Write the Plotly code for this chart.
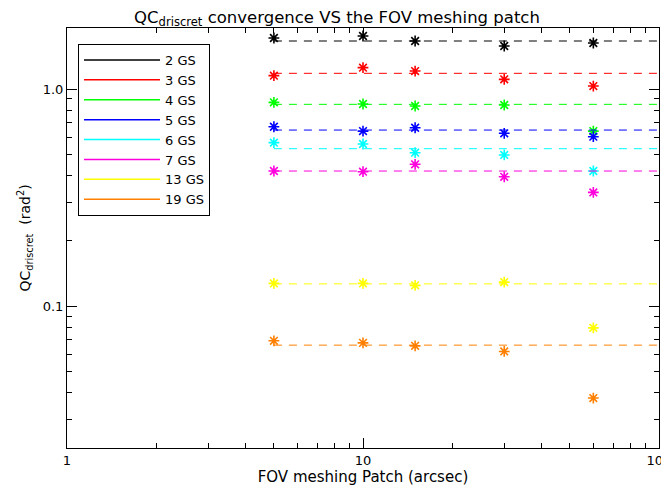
import numpy as np
import plotly.graph_objects as go

# FOV meshing patch (arcsec)
patch = [5, 10, 15, 30, 60]

series_names = ['2 GS', '3 GS', '4 GS', '5 GS', '6 GS', '7 GS', '13 GS', '19 GS']
series_colors = ['#000000', '#ff0000', '#00ff00', '#0000ff', '#00ffff', '#ff00dd', '#ffff00', '#ff8000']

# QC_driscret values (rad^2) per number of GS
qc_2gs = [1.718, 1.755, 1.664, 1.578, 1.629]
qc_3gs = [1.152, 1.254, 1.210, 1.108, 1.032]
qc_4gs = [0.868, 0.853, 0.835, 0.844, 0.640]
qc_5gs = [0.670, 0.640, 0.663, 0.625, 0.603]
qc_6gs = [0.566, 0.558, 0.509, 0.497, 0.419]
qc_7gs = [0.419, 0.416, 0.450, 0.394, 0.334]
qc_13gs = [0.1272, 0.1272, 0.1246, 0.1290, 0.0794]
qc_19gs = [0.0692, 0.0677, 0.0656, 0.0618, 0.0377]

# reference level (dashed line) per series
ref_level = [1.664, 1.181, 0.850, 0.647, 0.531, 0.419, 0.1266, 0.0661]
line_x = [5, 100]

all_qc = [qc_2gs, qc_3gs, qc_4gs, qc_5gs, qc_6gs, qc_7gs, qc_13gs, qc_19gs]

fig = go.Figure()

for name, col, qc, ref in zip(series_names, series_colors, all_qc, ref_level):
    fig.add_trace(
        go.Scatter(
            x=line_x,
            y=[ref, ref],
            mode='lines',
            line={'color': col, 'width': 1, 'dash': '8px,7px'},
            showlegend=False,
            hoverinfo='skip'
        )
    )
    fig.add_trace(
        go.Scatter(
            x=patch,
            y=qc,
            mode='markers',
            marker={'symbol': 'asterisk-open', 'size': 9, 'color': col,
                    'line': {'color': col, 'width': 1.6}},
            showlegend=False,
            name=name
        )
    )

# legend entries (solid lines)
for name, col in zip(series_names, series_colors):
    fig.add_trace(
        go.Scatter(
            x=[None],
            y=[None],
            mode='lines',
            line={'color': col, 'width': 1.5},
            name=name
        )
    )

font_family = 'DejaVu Sans, Liberation Sans, sans-serif'

# page body has an 8px margin, so the figure is 8px smaller than the window
W, H = 661, 486

layout = {
    'width': W,
    'height': H,
    'margin': {'l': 59, 'r': 10, 't': 20, 'b': 46, 'autoexpand': False},
    'paper_bgcolor': 'white',
    'plot_bgcolor': 'white',
    'font': {'family': font_family, 'size': 13, 'color': 'black'},
    'title': {
        'text': 'QC<sub>driscret</sub> convergence VS the FOV meshing patch',
        'x': 329 / W,
        'xref': 'container',
        'xanchor': 'center',
        'y': 1 - 9 / H,
        'yref': 'container',
        'yanchor': 'middle',
        'font': {'size': 16.5, 'family': font_family, 'color': 'black'}
    },
    'xaxis': {
        'type': 'log',
        'range': [0, 2],
        'title': {'text': 'FOV meshing Patch (arcsec)', 'standoff': 4, 'font': {'size': 15}},
        'tickvals': [1, 10, 100],
        'ticktext': ['1', '10', '100'],
        'ticklabeloverflow': 'allow',
        'ticks': 'inside',
        'ticklen': 10,
        'tickcolor': 'black',
        'showline': True,
        'linecolor': 'black',
        'linewidth': 1,
        'mirror': 'ticks',
        'showgrid': False,
        'zeroline': False,
        'automargin': False,
        'minor': {
            'tickvals': [2, 3, 4, 5, 6, 7, 8, 9, 20, 30, 40, 50, 60, 70, 80, 90],
            'ticks': 'inside',
            'ticklen': 5,
            'tickcolor': 'black',
            'showgrid': False
        }
    },
    'yaxis': {
        'type': 'log',
        'range': [np.log10(0.0222), np.log10(1.91)],
        'title': {'text': 'QC<sub>driscret</sub>  (rad<sup>2</sup>)', 'standoff': 8, 'font': {'size': 14}},
        'tickvals': [0.1, 1.0],
        'ticktext': ['0.1', '1.0'],
        'ticks': 'inside',
        'ticklen': 10,
        'tickcolor': 'black',
        'showline': True,
        'linecolor': 'black',
        'linewidth': 1,
        'mirror': 'ticks',
        'showgrid': False,
        'zeroline': False,
        'automargin': False,
        'minor': {
            'tickvals': [0.03, 0.04, 0.05, 0.06, 0.07, 0.08, 0.09,
                         0.2, 0.3, 0.4, 0.5, 0.6, 0.7, 0.8, 0.9],
            'ticks': 'inside',
            'ticklen': 5,
            'tickcolor': 'black',
            'showgrid': False
        }
    },
    'legend': {
        'x': (78 - 67) / 592,
        'y': (448 - 44) / 420,
        'xanchor': 'left',
        'yanchor': 'top',
        'bgcolor': 'white',
        'bordercolor': 'black',
        'borderwidth': 1,
        'itemwidth': 76,
        'tracegroupgap': 0,
        'font': {'size': 13, 'family': font_family}
    },
    'showlegend': True
}

fig.update_layout(layout)

fig.write_html('out.html')
